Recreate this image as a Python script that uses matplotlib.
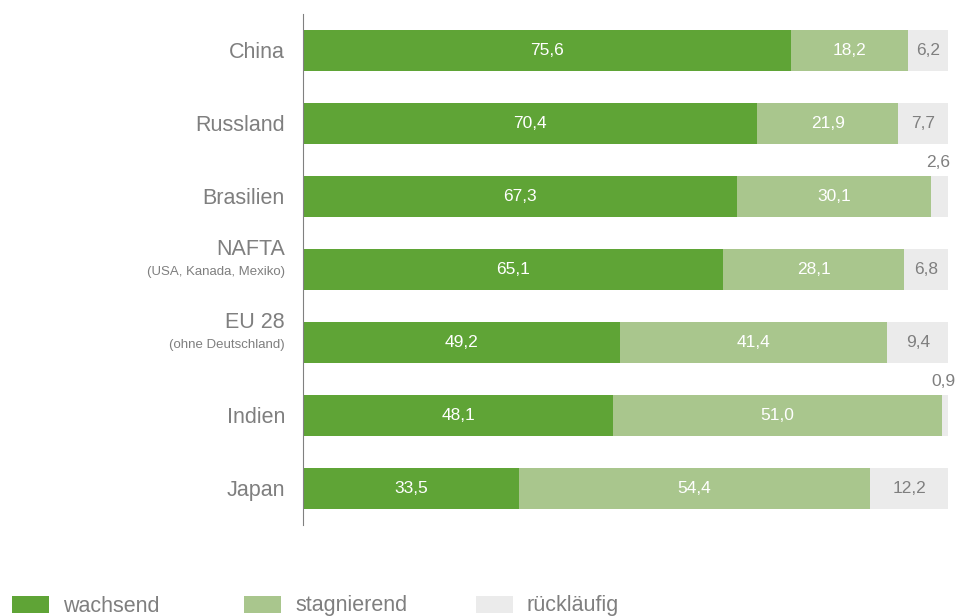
import matplotlib.pyplot as plt
from matplotlib.patches import Rectangle

plt.rcParams['font.family'] = ['Liberation Sans', 'DejaVu Sans']

### data ###
regions = ['China', 'Russland', 'Brasilien', 'NAFTA', 'EU 28', 'Indien', 'Japan']
subtitles = ['', '', '', '(USA, Kanada, Mexiko)', '(ohne Deutschland)', '', '']
wachsend = [75.6, 70.4, 67.3, 65.1, 49.2, 48.1, 33.5]
stagnierend = [18.2, 21.9, 30.1, 28.1, 41.4, 51.0, 54.4]
ruecklaeufig = [6.2, 7.7, 2.6, 6.8, 9.4, 0.9, 12.2]
series_names = ['wachsend', 'stagnierend', 'rückläufig']

colors = ['#5fa436', '#a9c68d', '#ebebeb']
text_gray = '#7f7f7f'

fig = plt.figure(figsize=(9.57, 6.16), dpi=100)
ax = fig.add_axes([0.3166, 0.1477, 0.6740, 0.8296])

ypos = list(range(len(regions)))
bar_h = 0.56
val_fs = 12.5

left = [0] * len(regions)
for vals, col in zip([wachsend, stagnierend, ruecklaeufig], colors):
    ax.barh(ypos, vals, left=left, height=bar_h, color=col, linewidth=0)
    for i, v in enumerate(vals):
        txt = f'{v:.1f}'.replace('.', ',')
        if col == colors[2]:
            if v < 4:
                # too narrow: put the number above the bar end
                ax.text(left[i] + v / 2 - 0.3, i - bar_h / 2 - 0.08, txt,
                        ha='center', va='bottom', color=text_gray, fontsize=val_fs)
            else:
                ax.text(left[i] + v / 2, i, txt, ha='center', va='center',
                        color=text_gray, fontsize=val_fs)
        else:
            ax.text(left[i] + v / 2, i, txt, ha='center', va='center',
                    color='white', fontsize=val_fs)
    left = [l + v for l, v in zip(left, vals)]

ax.set_xlim(0, 100)
ax.set_ylim(len(regions) - 0.5, -0.5)
ax.set_xticks([])
ax.set_yticks([])
for s in ['top', 'right', 'bottom']:
    ax.spines[s].set_visible(False)
ax.spines['left'].set_color('#808080')
ax.spines['left'].set_linewidth(0.8)

# category labels left of the axis
for i, (name, sub) in enumerate(zip(regions, subtitles)):
    if sub:
        ax.text(-2.8, i - 0.27, name, ha='right', va='center',
                color=text_gray, fontsize=15.5)
        ax.text(-2.8, i + 0.03, sub, ha='right', va='center',
                color=text_gray, fontsize=9.5)
    else:
        ax.text(-2.8, i + 0.03, name, ha='right', va='center',
                color=text_gray, fontsize=15.5)

# legend along the bottom
W, H = 957, 616
legend_x = [12, 244, 476]
for x, col, name in zip(legend_x, colors, series_names):
    fig.patches.append(Rectangle((x / W, 1 - 613 / H), 37 / W, 17 / H,
                                 transform=fig.transFigure, color=col,
                                 linewidth=0))
    fig.text((x + 51) / W, 1 - 606 / H, name, ha='left', va='center',
             color=text_gray, fontsize=15.5)

plt.savefig('out.png', dpi=100)
